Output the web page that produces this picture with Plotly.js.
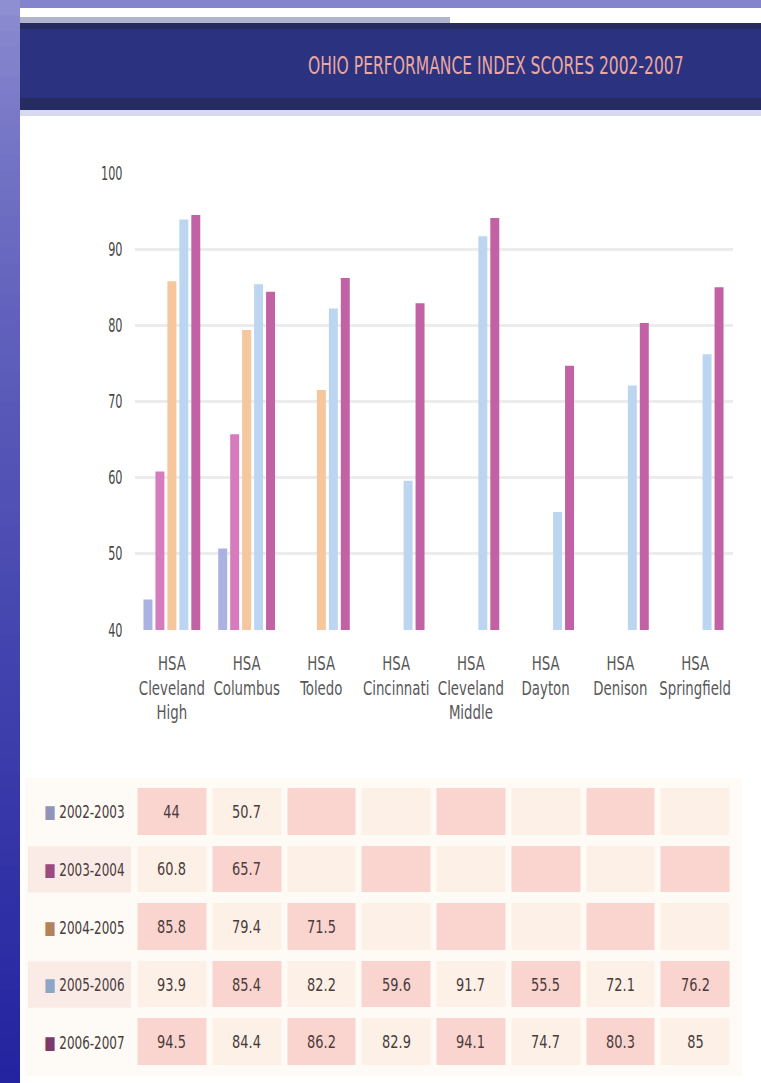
<!DOCTYPE html>
<html><head><meta charset="utf-8">
<script src="https://cdn.plot.ly/plotly-3.0.1.min.js"></script>
<style>html,body{margin:0;padding:0;background:#fff;}#chart{width:761px;height:1083px;}</style>
</head><body><div id="chart"></div>
<script>
// ---- data ----
const categories = ["HSA<br>Cleveland<br>High", "HSA<br>Columbus", "HSA<br>Toledo", "HSA<br>Cincinnati",
  "HSA<br>Cleveland<br>Middle", "HSA<br>Dayton", "HSA<br>Denison", "HSA<br>Springfield"];
const years = ["2002-2003", "2003-2004", "2004-2005", "2005-2006", "2006-2007"];
const s2002 = [44, 50.7, null, null, null, null, null, null];
const s2003 = [60.8, 65.7, null, null, null, null, null, null];
const s2004 = [85.8, 79.4, 71.5, null, null, null, null, null];
const s2005 = [93.9, 85.4, 82.2, 59.6, 91.7, 55.5, 72.1, 76.2];
const s2006 = [94.5, 84.4, 86.2, 82.9, 94.1, 74.7, 80.3, 85];
const yTicks = [40, 50, 60, 70, 80, 90, 100];
const chartTitle = "OHIO PERFORMANCE INDEX SCORES 2002-2007";

const seriesValues = [s2002, s2003, s2004, s2005, s2006];
const seriesColors = ["#aab2e2", "#d67cbc", "#f6c69c", "#bcd6f2", "#c262a4"];
const legendSwatch = ["#8f94b8", "#9c4a80", "#b48258", "#8ea6c6", "#7a3a6c"];

const NARROW = "'DejaVu Sans Condensed', 'Liberation Sans', sans-serif";
const W = 761, H = 1083;
const px = x => x / W;
const py = y => 1 - y / H;

const bars = years.map((yr, i) => ({
  type: 'bar', name: yr, x: categories, y: seriesValues[i],
  marker: {color: seriesColors[i]}, xaxis: 'x', yaxis: 'y', hoverinfo: 'skip'
}));

const zChecker = years.map((_, r) => categories.map((_, c) => ((r + c) % 2 === 0 ? 1 : 0)));
const cellText = seriesValues.map(row => row.map(v => (v == null ? "" : String(v))));

const table = {
  type: 'heatmap', x: categories, y: years, z: zChecker, text: cellText,
  texttemplate: '%{text}', textfont: {family: NARROW, size: 18, color: '#4a3c3c'},
  colorscale: [[0, '#fdf1e7'], [1, '#fad5cf']], zmin: 0, zmax: 1, showscale: false,
  xgap: 6, ygap: 11, xaxis: 'x2', yaxis: 'y2', hoverinfo: 'skip'
};

// slide background decoration
function mix(a, b, t) {
  const pa = [1, 3, 5].map(i => parseInt(a.substr(i, 2), 16));
  const pb = [1, 3, 5].map(i => parseInt(b.substr(i, 2), 16));
  return 'rgb(' + pa.map((v, k) => Math.round(v + (pb[k] - v) * t)).join(',') + ')';
}
const shapes = [];
const STEPS = 70;
for (let k = 0; k < STEPS; k++) {
  shapes.push({type: 'rect', xref: 'paper', yref: 'paper', x0: 0, x1: px(20),
    y0: py(k * H / STEPS), y1: py((k + 1) * H / STEPS + 1),
    fillcolor: mix('#8e8ed2', '#2424a0', Math.pow(k / (STEPS - 1), 0.7)), line: {width: 0}, layer: 'below'});
}
shapes.push(
  {type: 'rect', xref: 'paper', yref: 'paper', x0: px(20), x1: 1, y0: py(0), y1: py(8), fillcolor: '#8484cc', line: {width: 0}, layer: 'below'},
  {type: 'rect', xref: 'paper', yref: 'paper', x0: px(20), x1: 1, y0: py(8), y1: 0, fillcolor: '#ffffff', line: {width: 0}, layer: 'below'},
  {type: 'rect', xref: 'paper', yref: 'paper', x0: px(20), x1: px(450), y0: py(17), y1: py(23), fillcolor: '#b0b4cc', line: {width: 0}, layer: 'below'},
  {type: 'rect', xref: 'paper', yref: 'paper', x0: px(20), x1: 1, y0: py(23), y1: py(110), fillcolor: '#272c60', line: {width: 0}, layer: 'below'},
  {type: 'rect', xref: 'paper', yref: 'paper', x0: px(20), x1: 1, y0: py(29), y1: py(98), fillcolor: '#2b3380', line: {width: 0}, layer: 'below'},
  {type: 'rect', xref: 'paper', yref: 'paper', x0: px(20), x1: 1, y0: py(110), y1: py(116), fillcolor: '#d6d9f0', line: {width: 0}, layer: 'below'},
  {type: 'rect', xref: 'paper', yref: 'paper', x0: px(25), x1: px(742), y0: py(778), y1: py(1076), fillcolor: '#fefaf5', line: {width: 0}, layer: 'below'}
);
years.forEach((yr, i) => {
  if (i % 2 === 1) shapes.push({type: 'rect', xref: 'paper', yref: 'y2', x0: px(28), x1: px(131), y0: i - 0.4, y1: i + 0.4,
    fillcolor: '#fbebe7', line: {width: 0}, layer: 'below'});
});

const annotations = years.map((yr, i) => ({
  xref: 'paper', yref: 'y2', x: px(84), y: yr, xanchor: 'center', showarrow: false,
  text: '<span style="color:' + legendSwatch[i] + '">■</span> ' + yr,
  font: {family: NARROW, size: 18, color: '#4a3c3c'}
}));
annotations.push({
  xref: 'paper', yref: 'paper', x: px(496), y: py(66), xanchor: 'center', yanchor: 'middle', showarrow: false,
  text: chartTitle, font: {family: NARROW, size: 24, color: '#eaa8a0'}
});

const layout = {
  width: W, height: H, margin: {l: 0, r: 0, t: 0, b: 0},
  paper_bgcolor: '#3a3aaa', plot_bgcolor: 'rgba(0,0,0,0)',
  showlegend: false, hovermode: false,
  barmode: 'group', bargap: 0.2, bargroupgap: 0.25,
  xaxis: {domain: [px(134.5), px(732.5)], type: 'category', showgrid: false, zeroline: false, showline: false,
    ticks: '', tickangle: 0, ticklabelstandoff: 20, tickfont: {family: NARROW, size: 19, color: '#585858'}, fixedrange: true},
  yaxis: {domain: [py(630), py(173)], range: [40, 100], tickvals: yTicks, gridcolor: '#ececec', gridwidth: 3,
    zeroline: false, showline: false, ticks: '', ticklabelstandoff: 11,
    tickfont: {family: NARROW, size: 19, color: '#484848'}, fixedrange: true},
  xaxis2: {domain: [px(134.5), px(732.5)], type: 'category', anchor: 'y2', showticklabels: false,
    showgrid: false, zeroline: false, showline: false, ticks: '', fixedrange: true},
  yaxis2: {domain: [py(1071), py(783)], type: 'category', anchor: 'x2', autorange: 'reversed',
    showticklabels: false, showgrid: false, zeroline: false, showline: false, ticks: '', fixedrange: true},
  shapes: shapes, annotations: annotations
};

// the source slide was squeezed horizontally: narrow the real text glyphs to match
function squeeze(selector, s) {
  document.querySelectorAll(selector).forEach(t => {
    const bb = t.getBBox();
    const a = t.getAttribute('text-anchor') || 'start';
    const cx = a === 'end' ? bb.x + bb.width : (a === 'middle' ? bb.x + bb.width / 2 : bb.x);
    const tr = t.getAttribute('transform') || '';
    t.setAttribute('transform', tr + ' translate(' + cx + ',0) scale(' + s + ',1) translate(' + (-cx) + ',0)');
  });
}

Plotly.newPlot('chart', bars.concat([table]), layout, {displayModeBar: false, staticPlot: true}).then(() => {
  squeeze('.xaxislayer-above .xtick text', 0.78);
  squeeze('.yaxislayer-above .ytick text', 0.66);
  squeeze('.heatmaplayer text', 0.8);
  for (let i = 0; i < years.length; i++) squeeze('.annotation[data-index="' + i + '"] text', 0.74);
  squeeze('.annotation[data-index="' + years.length + '"] text', 0.72);
});
</script></body></html>
